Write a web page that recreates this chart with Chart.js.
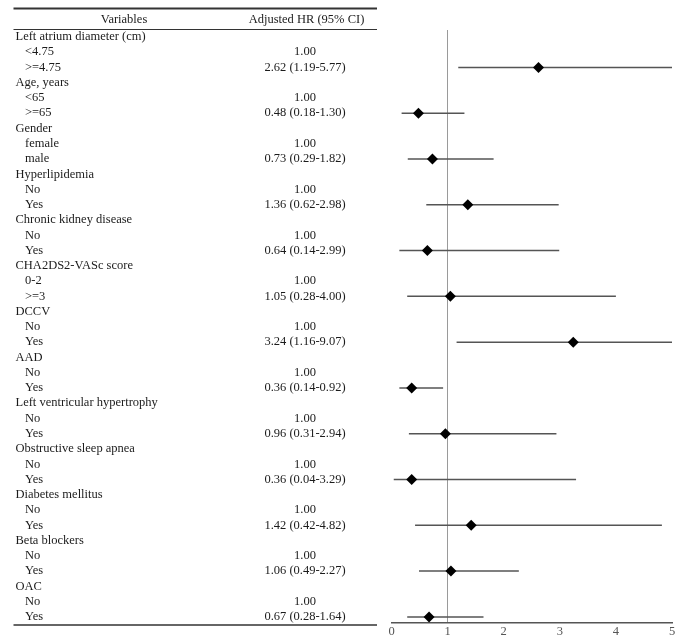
<!DOCTYPE html>
<html>
<head>
<meta charset="utf-8">
<script src="https://cdn.jsdelivr.net/npm/chart.js@4.4.0/dist/chart.umd.min.js"></script>
<style>
  html, body { margin: 0; padding: 0; background: #fff; }
  #wrap { width: 700px; height: 644px; position: relative; }
</style>
</head>
<body>
<div id="wrap"><canvas id="forest"></canvas></div>
<script>
// Table / forest plot data
const groupNames = ['Left atrium diameter (cm)', 'Age, years', 'Gender', 'Hyperlipidemia', 'Chronic kidney disease',
  'CHA2DS2-VASc score', 'DCCV', 'AAD', 'Left ventricular hypertrophy', 'Obstructive sleep apnea',
  'Diabetes mellitus', 'Beta blockers', 'OAC'];
const refLevels = ['<4.75', '<65', 'female', 'No', 'No', '0-2', 'No', 'No', 'No', 'No', 'No', 'No', 'No'];
const cmpLevels = ['>=4.75', '>=65', 'male', 'Yes', 'Yes', '>=3', 'Yes', 'Yes', 'Yes', 'Yes', 'Yes', 'Yes', 'Yes'];
const hazardRatios = [2.62, 0.48, 0.73, 1.36, 0.64, 1.05, 3.24, 0.36, 0.96, 0.36, 1.42, 1.06, 0.67];
const ciLower = [1.19, 0.18, 0.29, 0.62, 0.14, 0.28, 1.16, 0.14, 0.31, 0.04, 0.42, 0.49, 0.28];
const ciUpper = [5.77, 1.30, 1.82, 2.98, 2.99, 4.00, 9.07, 0.92, 2.94, 3.29, 4.82, 2.27, 1.64];
const xTicks = [0, 1, 2, 3, 4, 5];
const refValue = 1;

const FONT = '"Liberation Serif", "Times New Roman", serif';

// one table row per group title, reference level and compared level
const rows = [];
groupNames.forEach((name, g) => {
    rows.push({ label: name, hr: '', sub: false });
    rows.push({ label: refLevels[g], hr: '1.00', sub: true });
    rows.push({
        label: cmpLevels[g],
        hr: `${hazardRatios[g].toFixed(2)} (${ciLower[g].toFixed(2)}-${ciUpper[g].toFixed(2)})`,
        sub: true
    });
});
const cmpRow = (g) => g * 3 + 2;

// CI whiskers as one line with gaps between groups
const whiskerPoints = [];
hazardRatios.forEach((_, g) => {
    whiskerPoints.push({ x: ciLower[g], y: cmpRow(g) });
    whiskerPoints.push({ x: ciUpper[g], y: cmpRow(g) });
    whiskerPoints.push({ x: null, y: null });
});

// Draws the left-hand table text and its rules
const tablePlugin = {
    id: 'hrTable',
    afterDraw(chart) {
        const { ctx } = chart;
        const y = chart.scales.y;
        ctx.save();
        ctx.font = `12.5px ${FONT}`;
        ctx.fillStyle = '#1b1b1b';
        ctx.textBaseline = 'middle';

        ctx.textAlign = 'center';
        ctx.fillText('Variables', 124, 20);
        ctx.fillText('Adjusted HR (95% CI)', 306.5, 20);

        rows.forEach((r, i) => {
            const py = y.getPixelForValue(i);
            ctx.textAlign = 'left';
            ctx.fillText(r.label, r.sub ? 25 : 15.5, py);
            if (r.hr) {
                ctx.textAlign = 'center';
                ctx.fillText(r.hr, 305, py);
            }
        });

        ctx.strokeStyle = '#333';
        const rule = (yy, w) => {
            ctx.lineWidth = w;
            ctx.beginPath();
            ctx.moveTo(13.5, yy);
            ctx.lineTo(377, yy);
            ctx.stroke();
        };
        rule(8.5, 2);
        rule(29.5, 1.2);
        rule(625, 1.5);
        ctx.restore();
    }
};

new Chart(document.getElementById('forest'), {
    type: 'scatter',
    data: {
        datasets: [
            {
                type: 'line',
                data: whiskerPoints,
                borderColor: '#555',
                borderWidth: 1.5,
                pointRadius: 0,
                spanGaps: false,
                order: 2
            },
            {
                data: hazardRatios.map((v, g) => ({ x: v, y: cmpRow(g) })),
                pointStyle: 'rectRot',
                pointRadius: 5.5,
                backgroundColor: '#000',
                borderColor: '#000',
                borderWidth: 0,
                order: 1
            }
        ]
    },
    options: {
        responsive: true,
        maintainAspectRatio: false,
        animation: false,
        layout: { padding: { left: 391.5, right: 28, top: 30, bottom: 0 } },
        plugins: { legend: { display: false }, tooltip: { enabled: false } },
        scales: {
            x: {
                type: 'linear',
                min: 0,
                max: 5,
                afterBuildTicks: (s) => { s.ticks = xTicks.map(v => ({ value: v })); },
                afterFit: (s) => { s.height = 21; },
                grid: {
                    drawTicks: false,
                    lineWidth: 1,
                    color: (c) => (c.tick && c.tick.value === refValue ? '#9a9a9a' : 'rgba(0,0,0,0)')
                },
                border: { display: true, color: '#555', width: 1.5 },
                ticks: { padding: 1, color: '#555', font: { family: FONT, size: 12.5 } }
            },
            y: {
                type: 'linear',
                reverse: true,
                min: -0.45,
                max: rows.length - 0.6,
                display: false
            }
        }
    },
    plugins: [tablePlugin]
});
</script>
</body>
</html>
